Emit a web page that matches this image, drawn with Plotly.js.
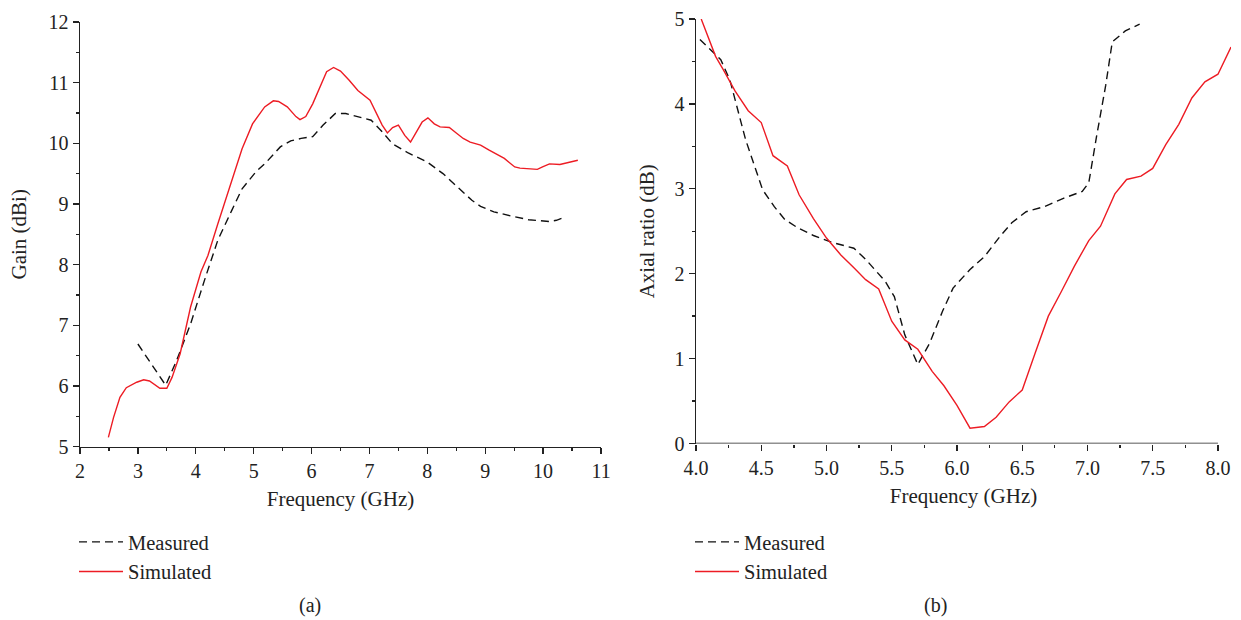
<!DOCTYPE html>
<html>
<head>
<meta charset="utf-8">
<script src="https://cdn.plot.ly/plotly-3.0.1.min.js"></script>
<style>html,body{margin:0;padding:0;background:#fff;}#chart{width:1241px;height:620px;}</style>
</head>
<body>
<div id="chart"></div>
<script>
// (a) Gain vs frequency
const gainSimFreq = [2.49,2.58,2.69,2.80,2.98,3.10,3.20,3.38,3.50,3.59,3.73,3.91,4.09,4.21,4.38,4.62,4.80,4.98,5.19,5.34,5.43,5.58,5.73,5.80,5.90,6.02,6.14,6.26,6.38,6.50,6.65,6.80,7.01,7.10,7.22,7.31,7.40,7.50,7.61,7.71,7.80,7.91,8.01,8.12,8.22,8.38,8.50,8.62,8.74,8.92,9.06,9.15,9.33,9.42,9.51,9.60,9.75,9.90,9.99,10.11,10.29,10.41,10.60];
const gainSim = [5.15,5.48,5.81,5.97,6.06,6.10,6.08,5.96,5.96,6.14,6.53,7.30,7.88,8.15,8.67,9.39,9.91,10.32,10.60,10.70,10.69,10.60,10.44,10.39,10.44,10.65,10.93,11.18,11.25,11.19,11.04,10.87,10.71,10.54,10.30,10.17,10.26,10.30,10.13,10.02,10.16,10.35,10.42,10.32,10.27,10.26,10.17,10.08,10.02,9.97,9.89,9.84,9.75,9.68,9.61,9.59,9.58,9.57,9.61,9.66,9.65,9.68,9.72];
const gainMeasFreq = [3.00,3.48,3.67,3.91,4.15,4.38,4.62,4.80,5.04,5.22,5.46,5.64,5.82,6.02,6.20,6.41,6.59,6.77,7.03,7.22,7.40,7.67,8.00,8.27,8.56,8.77,8.92,9.15,9.45,9.75,10.11,10.23,10.37];
const gainMeas = [6.69,6.01,6.42,7.02,7.74,8.40,8.89,9.25,9.53,9.69,9.94,10.04,10.08,10.11,10.30,10.49,10.49,10.44,10.38,10.19,9.99,9.84,9.69,9.50,9.25,9.06,8.96,8.87,8.80,8.74,8.71,8.73,8.78];

// (b) Axial ratio vs frequency
const arSimFreq = [4.04,4.10,4.15,4.21,4.30,4.40,4.50,4.59,4.70,4.79,4.90,5.00,5.11,5.21,5.30,5.40,5.50,5.60,5.70,5.81,5.90,6.00,6.10,6.21,6.30,6.40,6.50,6.60,6.70,6.80,6.90,7.01,7.10,7.21,7.30,7.41,7.50,7.60,7.70,7.80,7.90,8.00,8.10];
const arSim = [5.00,4.75,4.56,4.40,4.15,3.92,3.78,3.39,3.27,2.93,2.65,2.42,2.22,2.07,1.93,1.82,1.44,1.22,1.11,0.85,0.68,0.45,0.18,0.20,0.31,0.49,0.63,1.07,1.50,1.79,2.09,2.39,2.56,2.94,3.11,3.15,3.24,3.52,3.76,4.07,4.26,4.35,4.67];
const arMeasFreq = [4.03,4.19,4.26,4.38,4.51,4.60,4.68,4.78,4.90,5.04,5.21,5.30,5.45,5.52,5.60,5.70,5.79,5.89,5.97,6.10,6.21,6.33,6.42,6.53,6.67,6.82,6.96,7.01,7.07,7.14,7.19,7.29,7.40];
const arMeas = [4.76,4.52,4.28,3.58,2.99,2.79,2.64,2.54,2.45,2.37,2.30,2.17,1.91,1.73,1.28,0.93,1.18,1.56,1.83,2.05,2.20,2.44,2.60,2.73,2.79,2.89,2.97,3.07,3.62,4.22,4.73,4.86,4.94];

const gainTicks = [5,6,7,8,9,10,11,12];
const freqTicksA = [2,3,4,5,6,7,8,9,10,11];
const arTicks = [0,1,2,3,4,5];
const freqTicksB = [4.0,4.5,5.0,5.5,6.0,6.5,7.0,7.5,8.0];

const RED = '#ed1c24';
const FONT = 'Liberation Serif, Times New Roman, serif';
const dashStyle = '8px,5px';

const traces = [
  {x: gainMeasFreq, y: gainMeas, name: 'Measured', mode: 'lines', line: {color: '#111', width: 1.4, dash: dashStyle}, xaxis: 'x', yaxis: 'y', legend: 'legend'},
  {x: gainSimFreq, y: gainSim, name: 'Simulated', mode: 'lines', line: {color: RED, width: 1.4}, xaxis: 'x', yaxis: 'y', legend: 'legend'},
  {x: arMeasFreq, y: arMeas, name: 'Measured', mode: 'lines', line: {color: '#111', width: 1.4, dash: dashStyle}, xaxis: 'x2', yaxis: 'y2', legend: 'legend2'},
  {x: arSimFreq, y: arSim, name: 'Simulated', mode: 'lines', line: {color: RED, width: 1.4}, xaxis: 'x2', yaxis: 'y2', legend: 'legend2'}
];

const axBase = {
  showgrid: false, zeroline: false, showline: true, linecolor: '#222', linewidth: 1.5,
  ticks: 'outside', ticklen: 6, tickwidth: 1.3, tickcolor: '#222',
  tickfont: {family: FONT, size: 20, color: '#222'},
  fixedrange: true
};

const titleFont = {family: FONT, size: 21, color: '#222'};

const legendBase = {
  font: {family: FONT, size: 20.5, color: '#222'},
  bgcolor: 'rgba(0,0,0,0)', borderwidth: 0,
  xanchor: 'left', yanchor: 'top', tracegroupgap: 0, itemwidth: 44
};

const layout = {
  width: 1241, height: 620,
  margin: {l: 0, r: 0, t: 0, b: 0},
  paper_bgcolor: '#fff', plot_bgcolor: '#fff',
  font: {family: FONT, color: '#222'},
  showlegend: true,
  xaxis: Object.assign({}, axBase, {
    domain: [80/1241, 601/1241], range: [2, 11], anchor: 'y',
    tickvals: freqTicksA, ticktext: freqTicksA.map(String),
    minor: {dtick: 0.5, ticklen: 3, tickcolor: '#222', ticks: 'outside'},
    title: {text: 'Frequency (GHz)', font: titleFont, standoff: 10}
  }),
  yaxis: Object.assign({}, axBase, {
    domain: [(620-446.5)/620, (620-22)/620], range: [5, 12], anchor: 'x',
    tickvals: gainTicks, ticktext: gainTicks.map(String),
    minor: {dtick: 0.5, ticklen: 3, tickcolor: '#222', ticks: 'outside'},
    title: {text: 'Gain (dBi)', font: titleFont, standoff: 16}
  }),
  xaxis2: Object.assign({}, axBase, {
    domain: [696/1241, 1231/1241], range: [4, 8.1], anchor: 'y2', showline: false,
    tickvals: freqTicksB, ticktext: freqTicksB.map(v => v.toFixed(1)),
    minor: {dtick: 0.25, ticklen: 3, tickcolor: '#222', ticks: 'outside'},
    title: {text: 'Frequency (GHz)', font: titleFont, standoff: 10}
  }),
  yaxis2: Object.assign({}, axBase, {
    domain: [(620-443.5)/620, (620-19)/620], range: [0, 5], anchor: 'x2',
    tickvals: arTicks, ticktext: arTicks.map(String),
    minor: {dtick: 0.5, ticklen: 3, tickcolor: '#222', ticks: 'outside'},
    title: {text: 'Axial ratio (dB)', font: titleFont, standoff: 14}
  }),
  shapes: [
    {type: 'line', xref: 'x2', yref: 'y2', x0: 4, x1: 8, y0: 0, y1: 0, line: {color: '#222', width: 1.5}, layer: 'above'}
  ],
  legend: Object.assign({}, legendBase, {x: 74/1241, y: 1 - 522/620}),
  legend2: Object.assign({}, legendBase, {x: 690/1241, y: 1 - 522/620}),
  annotations: [
    {text: '(a)', xref: 'paper', yref: 'paper', x: 310/1241, y: 1 - 605/620, xanchor: 'center', yanchor: 'middle', showarrow: false, font: {family: FONT, size: 20, color: '#222'}},
    {text: '(b)', xref: 'paper', yref: 'paper', x: 935/1241, y: 1 - 605/620, xanchor: 'center', yanchor: 'middle', showarrow: false, font: {family: FONT, size: 20, color: '#222'}}
  ]
};

Plotly.newPlot('chart', traces, layout, {displayModeBar: false, staticPlot: true});
</script>
</body>
</html>
